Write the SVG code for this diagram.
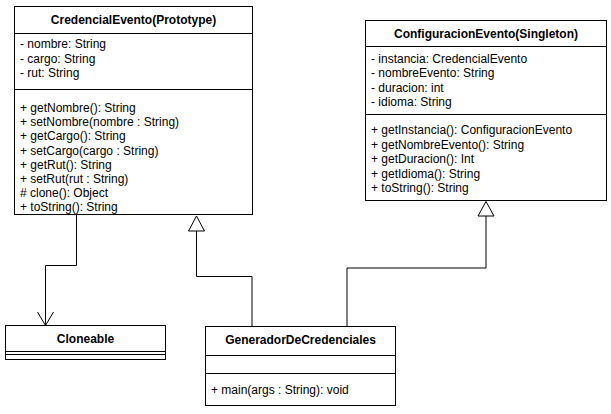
<svg xmlns="http://www.w3.org/2000/svg" width="611" height="414" viewBox="0 0 611 414">
<style>
.box{fill:#fff;stroke:#000;stroke-width:1}
.sep{stroke:#000;stroke-width:1;fill:none}
.t{font-family:"Liberation Sans",Arial,sans-serif;font-size:12px;fill:#000}
.h{font-family:"Liberation Sans",Arial,sans-serif;font-size:12px;font-weight:bold;fill:#000;text-anchor:middle}
.c{stroke:#000;stroke-width:1;fill:none}
.tri{fill:#fff;stroke:#000;stroke-width:1}
</style>
<rect width="611" height="414" fill="#fff"/>
<g id="connectors">
  <polyline class="c" points="76.5,214.5 76.5,265.5 45.5,265.5 45.5,325.5"/>
  <polyline class="c" points="37.5,312 45.5,325.5 53.5,312"/>
  <polyline class="c" points="252,326 252,276.5 196.5,276.5 196.5,231"/>
  <polygon class="tri" points="196.5,216 204.5,231 188.5,231"/>
  <polyline class="c" points="347,326 347,268 486,268 486,216"/>
  <polygon class="tri" points="486,201.5 494,216 478,216"/>
</g>
<g id="CredencialEvento">
  <rect class="box" x="14.5" y="6.5" width="238" height="208"/>
  <line class="sep" x1="14.5" y1="33.5" x2="252.5" y2="33.5"/>
  <line class="sep" x1="14.5" y1="89.5" x2="252.5" y2="89.5"/>
  <text class="h" x="133.5" y="24">CredencialEvento(Prototype)</text>
  <text class="t" x="20" y="48.3">- nombre: String</text>
  <text class="t" x="20" y="62.6">- cargo: String</text>
  <text class="t" x="20" y="76.9">- rut: String</text>
  <text class="t" x="20" y="112">+ getNombre(): String</text>
  <text class="t" x="20" y="126.2">+ setNombre(nombre : String)</text>
  <text class="t" x="20" y="140.4">+ getCargo(): String</text>
  <text class="t" x="20" y="154.6">+ setCargo(cargo : String)</text>
  <text class="t" x="20" y="168.8">+ getRut(): String</text>
  <text class="t" x="20" y="183">+ setRut(rut : String)</text>
  <text class="t" x="20" y="197.2"># clone(): Object</text>
  <text class="t" x="20" y="211.4">+ toString(): String</text>
</g>
<g id="ConfiguracionEvento">
  <rect class="box" x="365.5" y="20.5" width="241" height="180"/>
  <line class="sep" x1="365.5" y1="46.5" x2="606.5" y2="46.5"/>
  <line class="sep" x1="365.5" y1="114.5" x2="606.5" y2="114.5"/>
  <text class="h" x="486" y="37.5">ConfiguracionEvento(Singleton)</text>
  <text class="t" x="371" y="63">- instancia: CredencialEvento</text>
  <text class="t" x="371" y="77.3">- nombreEvento: String</text>
  <text class="t" x="371" y="91.6">- duracion: int</text>
  <text class="t" x="371" y="105.9">- idioma: String</text>
  <text class="t" x="371" y="134">+ getInstancia(): ConfiguracionEvento</text>
  <text class="t" x="371" y="148.5">+ getNombreEvento(): String</text>
  <text class="t" x="371" y="163">+ getDuracion(): Int</text>
  <text class="t" x="371" y="177.5">+ getIdioma(): String</text>
  <text class="t" x="371" y="192">+ toString(): String</text>
</g>
<g id="Cloneable">
  <rect class="box" x="5.5" y="325.5" width="160" height="34"/>
  <line class="sep" x1="5.5" y1="351.5" x2="165.5" y2="351.5"/>
  <line class="sep" x1="5.5" y1="354.5" x2="165.5" y2="354.5"/>
  <text class="h" x="85.5" y="342.8">Cloneable</text>
</g>
<g id="GeneradorDeCredenciales">
  <rect class="box" x="205.5" y="326.5" width="190" height="79"/>
  <line class="sep" x1="205.5" y1="355.5" x2="395.5" y2="355.5"/>
  <line class="sep" x1="205.5" y1="373.5" x2="395.5" y2="373.5"/>
  <text class="h" x="300.5" y="344">GeneradorDeCredenciales</text>
  <text class="t" x="211" y="394">+ main(args : String): void</text>
</g>
</svg>
